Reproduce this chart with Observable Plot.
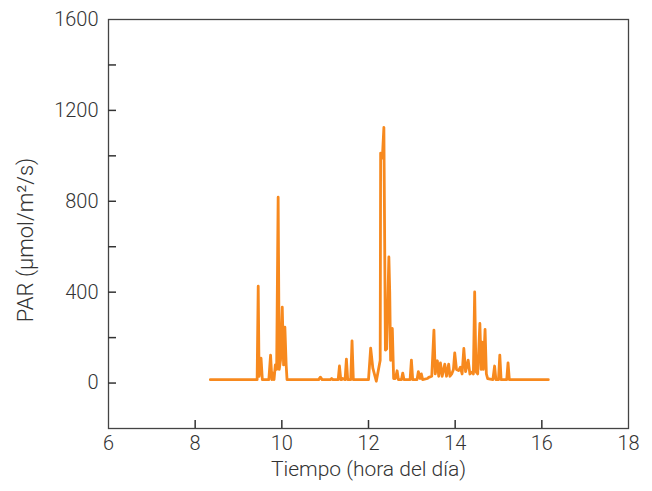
<!DOCTYPE html>
<html><head><meta charset="utf-8">
<script src="https://cdn.jsdelivr.net/npm/d3@7"></script>
<script src="https://cdn.jsdelivr.net/npm/@observablehq/plot@0.6"></script>
<style>body{margin:0;background:#fff}</style>
</head><body><div id="chart"></div>
<script>
const hours = [8.35,9.42,9.43,9.455,9.475,9.52,9.55,9.70,9.74,9.77,9.80,9.82,9.85,9.88,9.915,9.94,9.97,10.01,10.04,10.07,10.10,10.12,
  10.85,10.89,10.93,11.12,11.15,11.18,11.30,11.33,11.36,11.38,11.40,11.46,11.49,11.52,11.59,11.62,11.65,12.0,12.05,12.10,12.18,12.24,12.27,
  12.28,12.32,12.355,12.39,12.42,12.47,12.49,12.51,12.55,12.58,12.62,12.66,12.69,12.76,12.79,12.82,12.96,12.99,13.02,13.12,13.15,13.19,13.22,13.25,
  13.36,13.39,13.46,13.51,13.54,13.59,13.62,13.66,13.70,13.76,13.80,13.85,13.88,13.92,13.96,13.99,14.03,14.08,14.12,14.16,14.20,14.24,14.30,14.34,
  14.40,14.42,14.45,14.48,14.52,14.57,14.60,14.62,14.65,14.69,14.72,14.75,14.87,14.91,14.94,15.00,15.03,15.06,15.19,15.22,15.25,16.15];
const par = [15,15,15,426,30,110,15,15,123,15,44,15,80,60,818,60,100,334,80,246,80,15,
  15,26,15,15,20,15,15,75,15,15,20,15,105,15,15,186,15,15,154,66,8,70,100,
  1012,990,1125,145,150,555,400,100,240,20,20,54,15,15,44,15,15,101,15,15,50,20,40,15,
  20,25,30,233,40,98,30,89,30,83,30,83,30,40,60,133,60,55,70,40,152,50,101,40,
  50,40,401,50,40,262,60,180,60,236,40,20,15,75,15,15,123,15,15,89,15,15];
const xTickLabels = [6,8,10,12,14,16,18];
const xTickMarks = [8,10,12,14,16];
const yTickLabels = [0,400,800,1200,1600];
const yTickMarks = [0,200,400,600,800,1000,1200,1400];
const xTitle = "Tiempo (hora del día)";
const yTitle = "PAR (µmol/m²/s)";
const data = hours.map((h, i) => ({h, v: par[i]}));

const chart = Plot.plot({
  width: 652, height: 491,
  marginLeft: 108, marginRight: 24, marginTop: 19, marginBottom: 63,
  x: {domain: [6, 18]},
  y: {domain: [-200, 1600]},
  style: {fontSize: "20px", fontWeight: 300, color: "#333", background: "#fff", fontFamily: "Roboto, 'Liberation Sans', sans-serif"},
  marks: [
    Plot.frame({stroke: "#444", strokeWidth: 1.3}),
    Plot.axisY(yTickMarks, {tickSize: -8, tickFormat: () => "", label: null, strokeWidth: 1.5}),
    Plot.axisY(yTickLabels, {tickSize: 0, tickPadding: 10, tickFormat: "d", label: null}),
    Plot.axisX(xTickMarks, {tickSize: -8, tickFormat: () => "", label: null, strokeWidth: 1.5}),
    Plot.axisX(xTickLabels, {tickSize: 0, tickPadding: 7, tickFormat: "d", label: null}),
    Plot.line(data, {x: "h", y: "v", stroke: "#F7891E", strokeWidth: 2.8, strokeLinejoin: "round"}),
    Plot.text([yTitle], {frameAnchor: "left", textAnchor: "middle", rotate: -90, dx: -83, dy: 16, fontSize: 22, fill: "#333"}),
    Plot.text([xTitle], {frameAnchor: "bottom", dy: 47, fontSize: 21, fill: "#333"})
  ]
});
document.getElementById("chart").append(chart);
</script>
</body></html>
